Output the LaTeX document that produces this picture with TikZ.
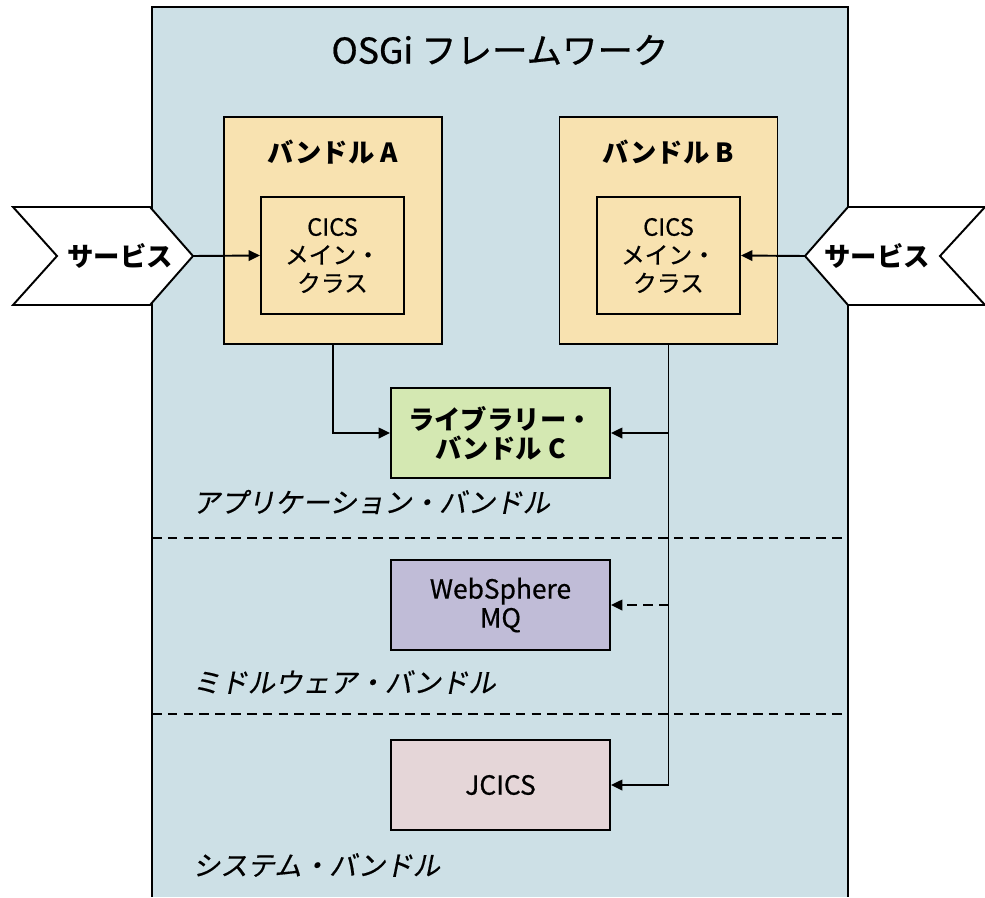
\documentclass[tikz,border=0pt]{standalone}
\usepackage{fontspec}
\setmainfont{Noto Sans CJK JP}
\newfontfamily\jpmed[FakeBold=0.6]{Noto Sans CJK JP}
\newfontfamily\jpit[FakeSlant=0.2,FakeBold=0.4]{Noto Sans CJK JP}
\usetikzlibrary{arrows.meta}
\definecolor{fwblue}{RGB}{205,224,230}
\definecolor{bndyellow}{RGB}{248,226,176}
\definecolor{libgreen}{RGB}{212,232,178}
\definecolor{mwpurple}{RGB}{192,188,215}
\definecolor{syspink}{RGB}{229,214,216}

\begin{document}
\begin{tikzpicture}
  [x=0.02cm,y=-0.02cm,line width=1.1pt,>={Triangle[length=6.5pt,width=6pt]},
   bundle/.style={rectangle,draw,fill=bndyellow,minimum width=4.36cm,minimum height=4.54cm},
   bndlabel/.style={font=\bfseries\fontsize{15}{18}\selectfont},
   mainbox/.style={rectangle,draw,minimum width=2.86cm,minimum height=2.34cm,align=center,font=\jpmed\fontsize{13.5}{16}\selectfont},
   libbox/.style={rectangle,draw,minimum width=4.38cm,minimum height=1.8cm,align=center,font=\jpmed\fontsize{15}{16.5}\selectfont},
   service/.style={draw,fill=white},
   svclabel/.style={font=\bfseries\fontsize{15}{18}\selectfont},
   layer/.style={anchor=west,font=\jpit\fontsize{15.6}{18}\selectfont},
   sep/.style={dash pattern=on 5.5pt off 3.5pt}]
    \useasboundingbox (0,0) rectangle (985,897);

    % framework
    \fill[fwblue] (152,7) rectangle (848,897);
    \draw (152,897) -- (152,7) -- (848,7) -- (848,897);
    \node (osgi) at (500,50) {\jpmed\fontsize{20.2}{24}\selectfont OSGi フレームワーク};

    % bundles A and B
    \node (bnda) [bundle] at (333,230.5) {};
    \node (bndb) [bundle] at (668.5,230.5) {};
    \node (laba) [bndlabel] at (333,152) {バンドル A};
    \node (labb) [bndlabel] at (668.5,152) {バンドル B};
    \node (maina) [mainbox] at (332.5,255.5) {CICS\\メイン・\\クラス};
    \node (mainb) [mainbox] at (668.5,255.5) {CICS\\メイン・\\クラス};

    % services
    \draw[service] (13,207) -- (150,207) -- (193,256) -- (150,305) -- (13,305) -- (57,256) -- cycle;
    \draw[service] (985,207) -- (848,207) -- (805,256) -- (848,305) -- (985,305) -- (940,256) -- cycle;
    \coordinate (tipa) at (193,256);
    \coordinate (tipb) at (805,256);
    \node (svca) [svclabel] at (120,256) {サービス};
    \node (svcb) [svclabel] at (877,256) {サービス};

    % lower bundles
    \node (libc)  [libbox,fill=libgreen,font=\bfseries\fontsize{15}{16.5}\selectfont] at (500.5,433) {ライブラリー・\\バンドル C};
    \node (mq)    [libbox,fill=mwpurple] at (500.5,605) {WebSphere\\MQ};
    \node (jcics) [libbox,fill=syspink] at (500.5,785) {JCICS};

    \node (appl) [layer] at (186,502) {アプリケーション・バンドル};
    \node (midl) [layer] at (186,682) {ミドルウェア・バンドル};
    \node (sysl) [layer] at (186,865) {システム・バンドル};

    \draw[sep] (152,538) -- (848,538);
    \draw[sep] (152,714) -- (848,714);

    \foreach \from/\to in {tipa/maina.west,tipb/mainb.east}
      \draw[->] (\from) -- (\to);

    \draw[->] (bnda.south) |- (libc.west);
    \draw[->] (bndb.south) |- (jcics.east);
    \draw[->] (bndb.south |- libc.east) -- (libc.east);
    \draw[->,sep] (bndb.south |- mq.east) -- (mq.east);
  \end{tikzpicture}
\end{document}
